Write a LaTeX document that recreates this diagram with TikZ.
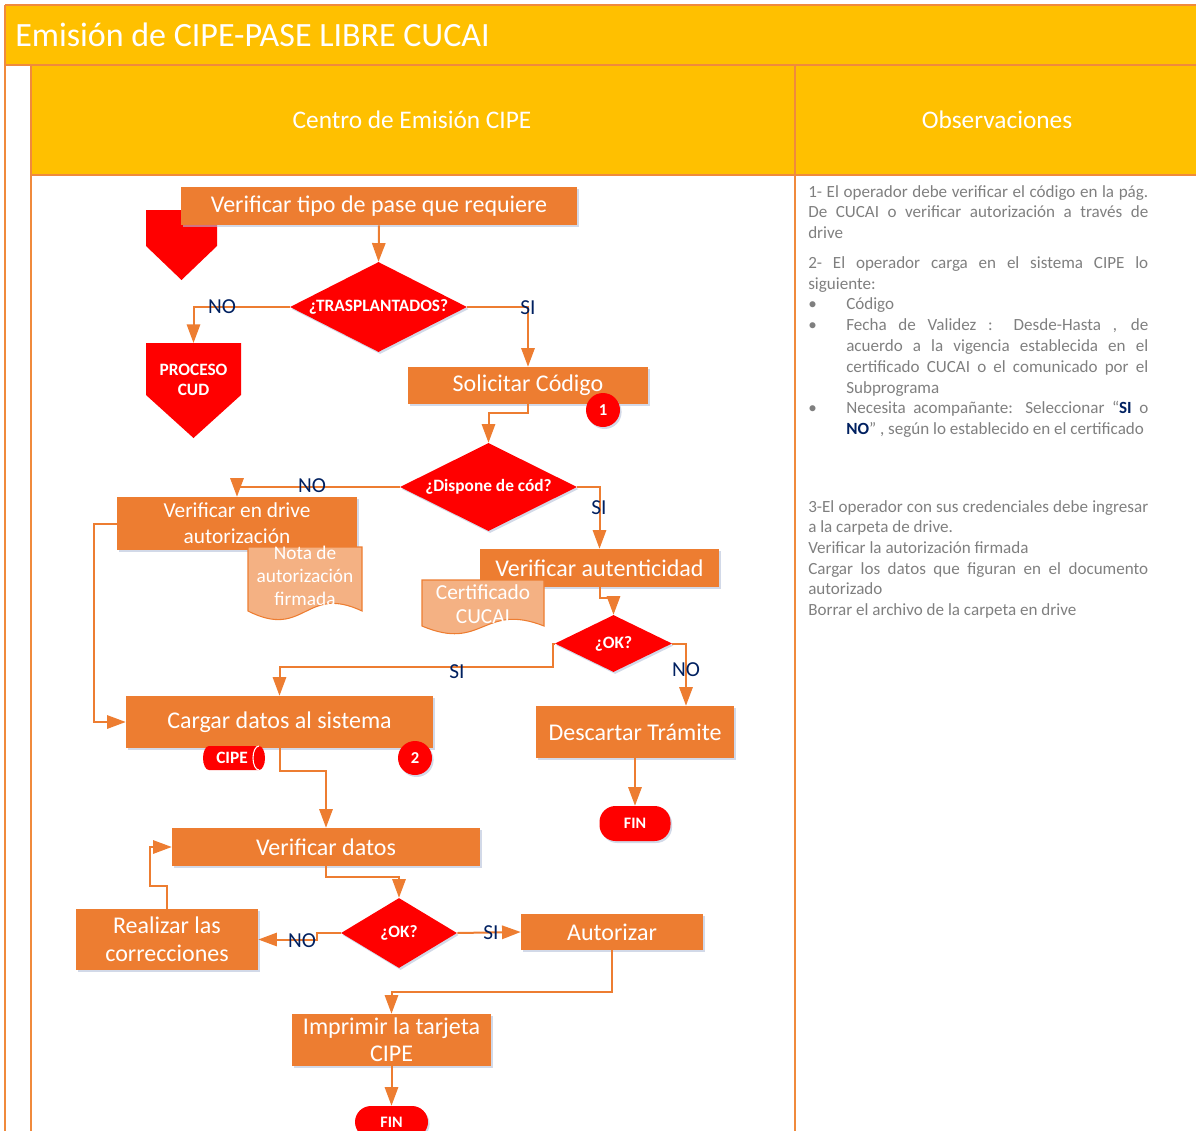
\documentclass[tikz,border=0pt]{standalone}
\usepackage{fontspec}
\setmainfont{Carlito}
\usetikzlibrary{arrows.meta,shapes.geometric,calc,shadows}
\definecolor{orng}{HTML}{ED7D31}
\definecolor{lorng}{HTML}{F4B183}
\definecolor{yel}{HTML}{FFC000}
\definecolor{rd}{HTML}{FF0000}
\definecolor{navy}{HTML}{002060}
\definecolor{gry}{HTML}{7F7F7F}
\definecolor{frame}{HTML}{F08A3C}
\definecolor{shd}{HTML}{B4C0D8}
\begin{document}
\begin{tikzpicture}[x=0.75pt,y=-0.75pt,
  shade it/.style={drop shadow={shadow xshift=1.2pt, shadow yshift=-1.5pt, fill=shd, opacity=0.6}},
  box/.style={fill=orng, text=white, inner sep=0, align=center, shade it, font=\fontsize{18}{22}\selectfont},
  dec/.style={diamond, fill=rd, text=white, inner sep=0, shade it, font=\bfseries\fontsize{13}{15}\selectfont},
  term/.style={fill=rd, text=white, inner sep=0, rounded corners=12pt, shade it, font=\bfseries\fontsize{12}{14}\selectfont},
  badge/.style={circle, fill=rd, text=white, inner sep=0, minimum size=25.5pt, shade it, font=\bfseries\fontsize{12.5}{14}\selectfont},
  conn/.style={draw=orng, line width=1.5pt, -{Triangle[length=14pt,width=10pt]}},
  lbl/.style={text=navy, inner sep=0, font=\fontsize{16}{18}\selectfont},
  doctxt/.style={text=white, inner sep=0, align=center, font=\fontsize{14.5}{17}\selectfont},
  hline/.style={draw=frame, line width=1.3pt},
  obs/.style={text=gry, inner sep=0, anchor=base west, font=\fontsize{12.8}{15}\selectfont},
  sz/.style 2 args={minimum width=#1*0.75pt, minimum height=#2*0.75pt}]
\useasboundingbox (0,0) rectangle (1196,1131);
% header
\fill[yel] (5,5) rectangle (1196,65);
\fill[yel] (31,65) rectangle (1196,175);
\draw[hline] (5,5) -- (1196,5);
\draw[hline] (5,5) -- (5,1131);
\draw[hline] (5,65) -- (1196,65);
\draw[hline] (31,65) -- (31,1131);
\draw[hline] (795,65) -- (795,1131);
\draw[hline] (31,175) -- (1196,175);
\node[text=white, inner sep=0, anchor=west, font=\fontsize{25.5}{28}\selectfont] (title) at (15,35) {Emisión de CIPE-PASE LIBRE CUCAI};
\node[text=white, inner sep=0, font=\fontsize{19}{22}\selectfont] (lane1) at (412,120) {Centro de Emisión CIPE};
\node[text=white, inner sep=0, font=\fontsize{19}{22}\selectfont] (lane2) at (997,120) {Observaciones};

% off-page connectors
\fill[rd] (146,210) -- (217,210) -- (217,246) -- (181.5,280) -- (146,246) -- cycle;
\fill[rd] (146,343) -- (241,343) -- (241,395) -- (193.5,438) -- (146,395) -- cycle;
\coordinate (cudtop) at (193.5,343);
\node[text=white, inner sep=0, align=center, font=\bfseries\fontsize{13}{15.5}\selectfont] (cud) at (193.5,380) {PROCESO\\CUD};

% process boxes
\node[box, sz={396}{38}] (n1) at (379,206) {Verificar tipo de pase que requiere};
\node[box, sz={240}{37}] (n2) at (528,385.5) {Solicitar Código};
\node[box, sz={240}{53}, font=\fontsize{16}{19.5}\selectfont] (n3) at (237,523.5) {Verificar en drive\\autorización};
\node[box, sz={239}{38}] (n4) at (599.5,568) {Verificar autenticidad};
\node[box, sz={307}{52}] (n5) at (279.5,722) {Cargar datos al sistema};
\node[box, sz={198}{52}] (n6) at (635,732) {Descartar Trámite};
\node[box, sz={308}{38}] (n7) at (326,847) {Verificar datos};
\node[box, sz={182}{61}, font=\fontsize{18}{21}\selectfont] (n8) at (167,939.5) {Realizar las\\correcciones};
\node[box, sz={182}{36}] (n9) at (612,932) {Autorizar};
\node[box, sz={199}{52}, font=\fontsize{18}{20}\selectfont] (n10) at (391.5,1040) {Imprimir la tarjeta\\CIPE};

% documents
\filldraw[fill=lorng, draw=orng, line width=0.8pt] (248,547) -- (362,547) -- (362,611) .. controls (305,584) and (305,640) .. (248,611) -- cycle;
\node[doctxt] (nota) at (305,576) {Nota de\\autorización\\firmada};
\filldraw[fill=lorng, draw=orng, line width=0.8pt] (422,580) -- (544,580) -- (544,626) .. controls (483,602) and (483,652) .. (422,626) -- cycle;
\node[doctxt, font=\fontsize{16}{18}\selectfont] (cert) at (483,604) {Certificado\\CUCAI};

% CIPE cylinder
\fill[rd] (209,746) -- (259,746) arc[start angle=-90,end angle=90,x radius=6,y radius=12] -- (209,770) arc[start angle=90,end angle=270,x radius=6,y radius=12] -- cycle;
\draw[white, line width=0.8pt] (259,746) arc[start angle=270,end angle=90,x radius=6,y radius=12];
\node[text=white, inner sep=0, font=\bfseries\fontsize{13}{15}\selectfont] (cipe) at (232,758) {CIPE};

% decisions
\node[dec, sz={177}{90}, aspect=2] (d1) at (378.5,307) {¿TRASPLANTADOS?};
\node[dec, sz={177}{88}, aspect=2] (d2) at (488.5,487) {¿Dispone de cód?};
\node[dec, sz={117}{57}, aspect=2] (d3) at (613.5,643.5) {¿OK?};
\node[dec, sz={116}{70}, aspect=1.6] (d4) at (399,933) {¿OK?};

% terminators
\node[term, sz={71}{35}] (fin1) at (635,823.5) {FIN};
\node[term, sz={73}{32}] (fin2) at (391.5,1122) {FIN};

% badges
\node[badge] (b1) at (603,410) {1};
\node[badge] (b2) at (415,758) {2};

% connectors
\draw[conn] (n1.south) -- (d1.north);
\draw[conn] (d1.west) -| (cudtop);
\draw[conn] (d1.east) -| (n2.north);
\draw[conn] (n2.south) -- ++(0,9) -| (d2.north);
\draw[conn] (d2.west) -| (n3.north);
\draw[conn] (d2.east) -| (n4.north);
\draw[conn] (n3.west) -- ++(-23,0) |- (n5.west);
\draw[conn] (n4.south) -- ++(0,11) -| (d3.north);
\draw[conn] (d3.west) -- ++(-2,0) -- ++(0,23) -| (n5.north);
\draw[conn] (d3.east) -| ($(n6.north)+(51,0)$);
\draw[conn] (n6.south) -- (fin1.north);
\draw[conn] (n5.south) -- ++(0,23) -| (n7.north);
\draw[conn] (n7.south) -- ++(0,11) -| (d4.north);
\draw[conn] (d4.west) -- ++(-24,0) |- (n8.east);
\draw[conn] (n8.north) -- ++(0,-23) -- ++(-17,0) |- (n7.west);
\draw[conn] (d4.east) -- (n9.west);
\draw[conn] (n9.south) -- ++(0,42) -| (n10.north);
\draw[conn] (n10.south) -- (fin2.north);

% labels
\node[lbl] (l1) at (222,307) {NO};
\node[lbl] (l2) at (528,308) {SI};
\node[lbl] (l3) at (312,486) {NO};
\node[lbl] (l4) at (599,508) {SI};
\node[lbl] (l5) at (457,672) {SI};
\node[lbl] (l6) at (686,670) {NO};
\node[lbl] (l7) at (302,941) {NO};
\node[lbl] (l8) at (491,933) {SI};

% observations
\node[obs] (o1) at (808,197) {\makebox[255pt][s]{1- El operador debe verificar el código en la pág.}};
\node[obs] (o2) at (808,217) {\makebox[255pt][s]{De CUCAI o verificar autorización a través de}};
\node[obs] (o3) at (808,238) {drive};
\node[obs] (o4) at (808,268) {\makebox[255pt][s]{2- El operador carga en el sistema CIPE lo}};
\node[obs] (o5) at (808,289) {siguiente:};
\node[obs] (ob1) at (808,309) {\textbullet};
\node[obs] (o6) at (846,309) {Código};
\node[obs] (ob2) at (808,330) {\textbullet};
\node[obs] (o7) at (846,330) {\makebox[226.5pt][s]{Fecha de Validez :  Desde-Hasta , de}};
\node[obs] (o8) at (846,351) {\makebox[226.5pt][s]{acuerdo a la vigencia establecida en el}};
\node[obs] (o9) at (846,372) {\makebox[226.5pt][s]{certificado CUCAI o el comunicado por el}};
\node[obs] (o10) at (846,393) {Subprograma};
\node[obs] (ob3) at (808,413) {\textbullet};
\node[obs] (o11) at (846,413) {\makebox[226.5pt][s]{Necesita acompañante: Seleccionar “\textcolor{navy}{\bfseries SI} o}};
\node[obs] (o12) at (846,434) {\textcolor{navy}{\bfseries NO}” , según lo establecido en el certificado};
\node[obs] (o13) at (808,512) {\makebox[255pt][s]{3-El operador con sus credenciales debe ingresar}};
\node[obs] (o14) at (808,532) {a la carpeta de drive.};
\node[obs] (o15) at (808,553) {Verificar la autorización firmada};
\node[obs] (o16) at (808,574) {\makebox[255pt][s]{Cargar los datos que figuran en el documento}};
\node[obs] (o17) at (808,594) {autorizado};
\node[obs] (o18) at (808,615) {Borrar el archivo de la carpeta en drive};
\end{tikzpicture}
\end{document}
